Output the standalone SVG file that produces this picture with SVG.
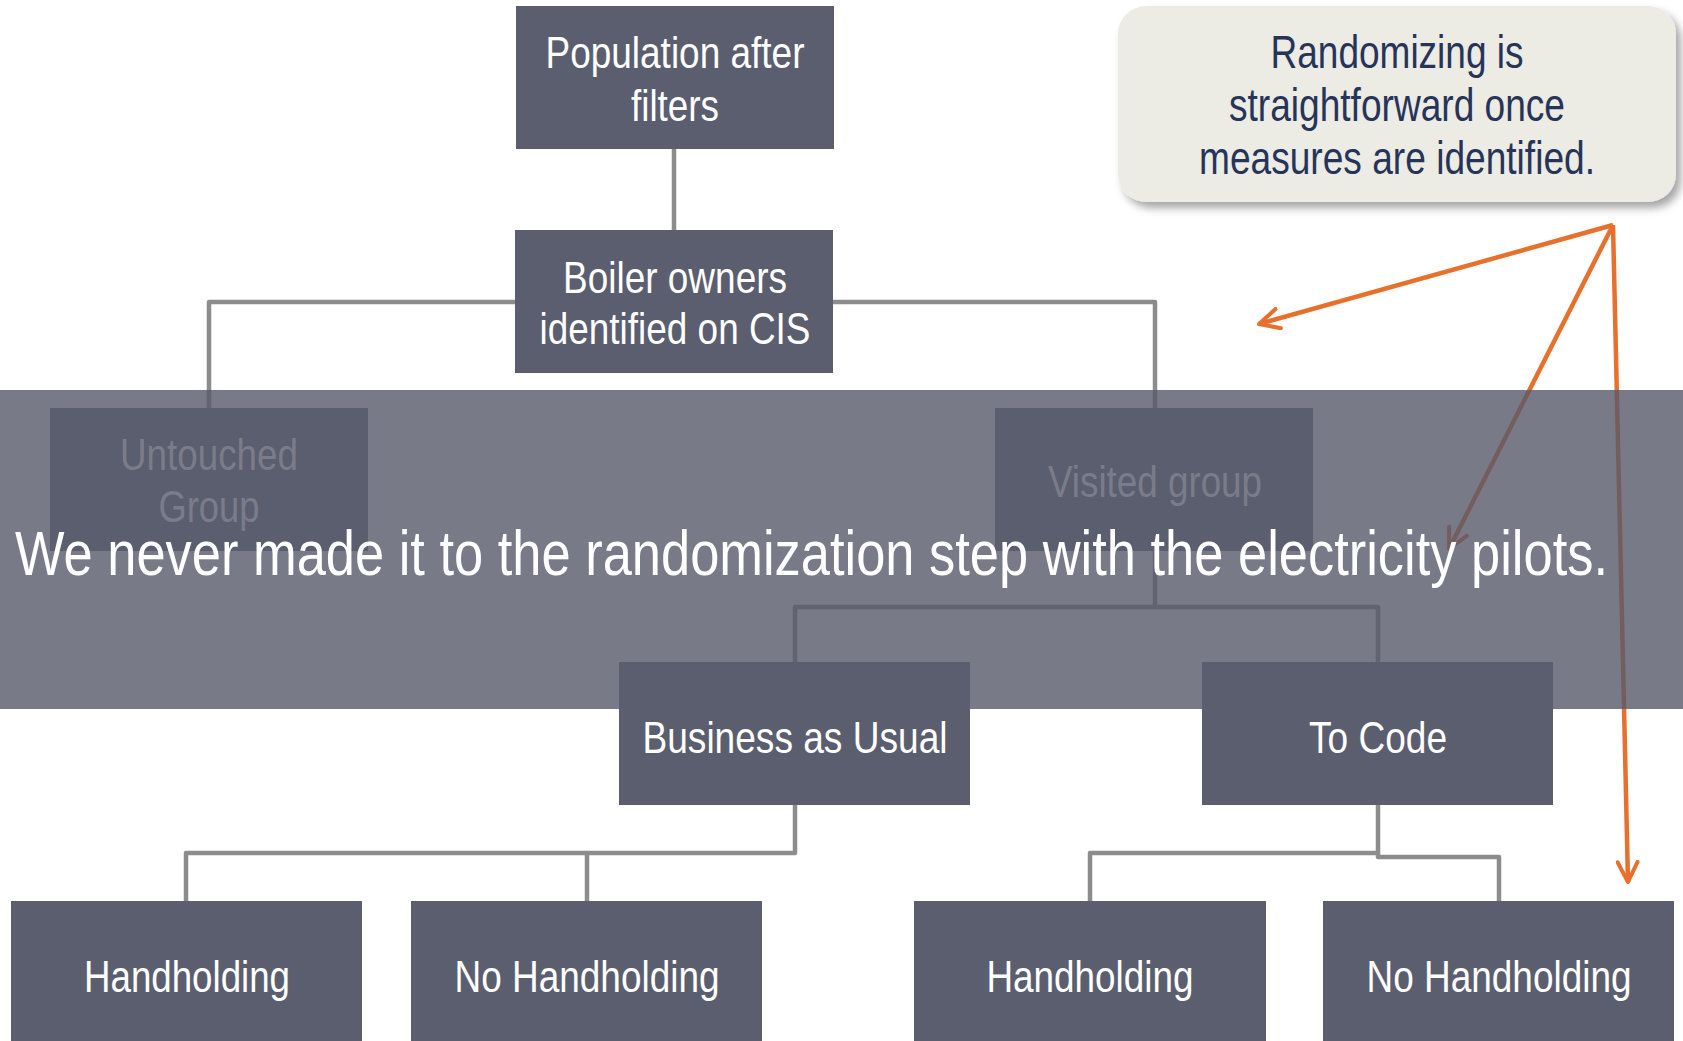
<svg xmlns="http://www.w3.org/2000/svg" width="1683" height="1041" viewBox="0 0 1683 1041">
  <defs>
    <style>
      .box { fill: #5B5E6F; }
      .lbl { font-family: "Liberation Sans", Arial, sans-serif; font-size: 45px; fill: #FFFFFF; text-anchor: middle; }
      .faded { fill: #7A7C8A; }
      .conn { fill: none; stroke: #8C8C8C; stroke-width: 4.5; stroke-linejoin: round; }
      .arrow { fill: none; stroke: #E8702D; stroke-width: 4.5; marker-end: url(#openHead); }
      .note { font-family: "Liberation Sans", Arial, sans-serif; font-size: 46px; fill: #26345A; text-anchor: middle; }
      .banner { font-family: "Liberation Sans", Arial, sans-serif; font-size: 63px; fill: #FFFFFF; }
    </style>
    <marker id="openHead" viewBox="0 0 12 12" refX="11" refY="6" markerWidth="24" markerHeight="24" markerUnits="userSpaceOnUse" orient="auto">
      <path d="M1,1 L11,6 L1,11" fill="none" stroke="#E8702D" stroke-width="2" stroke-linecap="round" stroke-linejoin="round"/>
    </marker>
    <filter id="shadow" x="-10%" y="-10%" width="130%" height="140%">
      <feDropShadow dx="5" dy="6" stdDeviation="4" flood-color="#000000" flood-opacity="0.35"/>
    </filter>
  </defs>

  <rect width="1683" height="1041" fill="#FFFFFF"/>

  <!-- tree connectors -->
  <g id="connectors">
    <path class="conn" d="M674,149 V230"/>
    <path class="conn" d="M209,408 V302 H515"/>
    <path class="conn" d="M833,302 H1155 V408"/>
    <path class="conn" d="M1155,551 V607"/>
    <path class="conn" d="M795,662 V607 H1378 V662"/>
    <path class="conn" d="M795,805 V853 H186 V901"/>
    <path class="conn" d="M587,853 V901"/>
    <path class="conn" d="M1378,805 V853 H1090 V901"/>
    <path class="conn" d="M1378,853 V857 H1499 V901"/>
    <!-- callout pointers -->
    <path class="arrow" d="M1613,225 L1259,324"/>
    <path class="arrow" d="M1613,225 L1449,549"/>
    <path class="arrow" d="M1613,225 L1628,882"/>
  </g>

  <!-- translucent banner strip -->
  <rect id="band" x="0" y="390" width="1683" height="319" fill="#56596A" opacity="0.8"/>

  <g id="population">
    <rect class="box" x="516" y="6" width="318" height="143"/>
    <text class="lbl" x="675" y="68" textLength="259" lengthAdjust="spacingAndGlyphs">Population after</text>
    <text class="lbl" x="675" y="121" textLength="88" lengthAdjust="spacingAndGlyphs">filters</text>
  </g>

  <g id="boiler">
    <rect class="box" x="515" y="230" width="318" height="143"/>
    <text class="lbl" x="675" y="293" textLength="224" lengthAdjust="spacingAndGlyphs">Boiler owners</text>
    <text class="lbl" x="675" y="344" textLength="271" lengthAdjust="spacingAndGlyphs">identified on CIS</text>
  </g>

  <g id="untouched">
    <rect class="box" x="50" y="408" width="318" height="143"/>
    <text class="lbl faded" x="209" y="470" textLength="178" lengthAdjust="spacingAndGlyphs">Untouched</text>
    <text class="lbl faded" x="209" y="522" textLength="101" lengthAdjust="spacingAndGlyphs">Group</text>
  </g>

  <g id="visited">
    <rect class="box" x="995" y="408" width="318" height="143"/>
    <text class="lbl faded" x="1155" y="497" textLength="214" lengthAdjust="spacingAndGlyphs">Visited group</text>
  </g>

  <g id="business-as-usual">
    <rect class="box" x="619" y="662" width="351" height="143"/>
    <text class="lbl" x="795" y="753" textLength="305" lengthAdjust="spacingAndGlyphs">Business as Usual</text>
  </g>

  <g id="to-code">
    <rect class="box" x="1202" y="662" width="351" height="143"/>
    <text class="lbl" x="1378" y="753" textLength="138" lengthAdjust="spacingAndGlyphs">To Code</text>
  </g>

  <g id="bau-handholding">
    <rect class="box" x="11" y="901" width="351" height="145"/>
    <text class="lbl" x="187" y="992" textLength="206" lengthAdjust="spacingAndGlyphs">Handholding</text>
  </g>

  <g id="bau-no-handholding">
    <rect class="box" x="411" y="901" width="351" height="145"/>
    <text class="lbl" x="587" y="992" textLength="265" lengthAdjust="spacingAndGlyphs">No Handholding</text>
  </g>

  <g id="code-handholding">
    <rect class="box" x="914" y="901" width="352" height="145"/>
    <text class="lbl" x="1090" y="992" textLength="207" lengthAdjust="spacingAndGlyphs">Handholding</text>
  </g>

  <g id="code-no-handholding">
    <rect class="box" x="1323" y="901" width="351" height="145"/>
    <text class="lbl" x="1499" y="992" textLength="265" lengthAdjust="spacingAndGlyphs">No Handholding</text>
  </g>

  <g id="callout">
    <rect x="1118" y="6" width="558" height="196" rx="28" ry="28" fill="#ECEBE4" filter="url(#shadow)"/>
    <text class="note" x="1397" y="68" textLength="253" lengthAdjust="spacingAndGlyphs">Randomizing is</text>
    <text class="note" x="1397" y="121" textLength="336" lengthAdjust="spacingAndGlyphs">straightforward once</text>
    <text class="note" x="1397" y="174" textLength="396" lengthAdjust="spacingAndGlyphs">measures are identified.</text>
  </g>

  <g id="banner-text">
    <text class="banner" x="15" y="575" textLength="1593" lengthAdjust="spacingAndGlyphs">We never made it to the randomization step with the electricity pilots.</text>
  </g>
</svg>
